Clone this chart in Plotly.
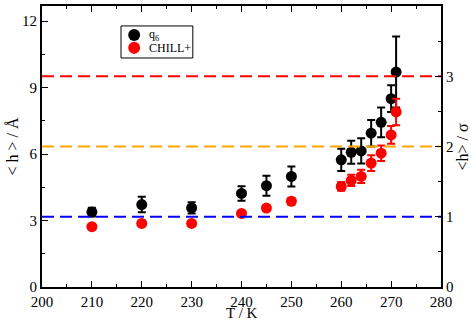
import plotly.graph_objects as go

# q6 data
T_q6 = [210, 220, 230, 240, 245, 250, 260, 262, 264, 266, 268, 270, 271]
h_q6 = [3.38, 3.72, 3.57, 4.22, 4.57, 4.99, 5.74, 6.08, 6.14, 6.94, 7.43, 8.50, 9.70]
err_q6 = [0.20, 0.35, 0.25, 0.33, 0.45, 0.45, 0.50, 0.52, 0.57, 0.60, 0.67, 0.60, 1.60]

# CHILL+ data
T_chill = [210, 220, 230, 240, 245, 250, 260, 262, 264, 266, 268, 270, 271]
h_chill = [2.72, 2.87, 2.87, 3.32, 3.56, 3.87, 4.54, 4.81, 4.99, 5.59, 6.04, 6.86, 7.90]
err_chill = [0.05, 0.05, 0.05, 0.05, 0.10, 0.15, 0.20, 0.25, 0.30, 0.35, 0.35, 0.40, 0.60]

# reference lines in units of sigma
sigma = 3.17
levels = [1, 2, 3]
level_colors = ["blue", "orange", "red"]

series_names = ["q<sub>6</sub>", "CHILL+"]
series_colors = ["black", "red"]

font = "Liberation Serif"

fig = go.Figure()

for lv, col in zip(levels, level_colors):
    fig.add_trace(go.Scatter(x=[200, 280], y=[lv, lv], mode="lines", yaxis="y2",
                             line=dict(color=col, width=2, dash="12px,6px"),
                             showlegend=False, hoverinfo="skip"))

fig.add_trace(go.Scatter(x=T_q6, y=h_q6, mode="markers", name=series_names[0],
                         marker=dict(color="black", size=11),
                         error_y=dict(type="data", array=err_q6, color="black",
                                      thickness=2, width=4)))
fig.add_trace(go.Scatter(x=T_chill, y=h_chill, mode="markers", name=series_names[1],
                         marker=dict(color="red", size=11),
                         error_y=dict(type="data", array=err_chill, color="red",
                                      thickness=2, width=4)))

axis_common = dict(showline=True, linecolor="black", linewidth=2, ticks="inside",
                   ticklen=6, tickwidth=1, tickcolor="black", showgrid=False,
                   zeroline=False, ticklabelstandoff=0, automargin=False,
                   tickfont=dict(family=font, size=15, color="black"))

# hand-made compact legend box (xmgrace style)
shapes = [dict(type="rect", xref="paper", yref="paper", x0=0.198, x1=0.378,
               y0=0.815, y1=0.929, line=dict(color="black", width=1),
               fillcolor="white", layer="above")]
annotations = []
for i, (name, col) in enumerate(zip(series_names, series_colors)):
    yc = 0.897 - i * 0.046
    shapes.append(dict(type="circle", xref="paper", yref="paper",
                       x0=0.231 - 0.015, x1=0.231 + 0.015,
                       y0=yc - 0.0214, y1=yc + 0.0214,
                       fillcolor=col, line=dict(width=0), layer="above"))
    annotations.append(dict(text=name, xref="paper", yref="paper", x=0.264, y=yc,
                            xanchor="left", yanchor="middle", showarrow=False,
                            font=dict(size=12)))

annotations += [
    dict(text="T / K", xref="paper", yref="paper", x=0.5, y=-0.094,
         yanchor="middle", showarrow=False, font=dict(size=15)),
    dict(text="< h > / Å", xref="paper", yref="paper", x=-0.075, y=0.5,
         textangle=-90, xanchor="center", yanchor="middle", showarrow=False,
         font=dict(size=16)),
    dict(text="<h> / σ", xref="paper", yref="paper", x=1.055, y=0.5,
         textangle=-90, xanchor="center", yanchor="middle", showarrow=False,
         font=dict(size=16)),
]

fig.update_layout(
    width=471, height=320,
    margin=dict(l=42, r=30, t=6, b=33, autoexpand=False),
    plot_bgcolor="white", paper_bgcolor="white",
    font=dict(family=font, size=16, color="black"),
    showlegend=False,
    xaxis=dict(range=[200, 280], dtick=10, mirror="ticks",
               minor=dict(dtick=5, ticks="inside", ticklen=3, tickcolor="black"),
               **axis_common),
    yaxis=dict(range=[0, 4 * sigma], tickvals=[0, 3, 6, 9, 12],
               minor=dict(tickvals=[1.5, 4.5, 7.5, 10.5], ticks="inside", ticklen=3,
                          tickcolor="black"),
               **axis_common),
    yaxis2=dict(range=[0, 4], overlaying="y", side="right", dtick=1,
                minor=dict(dtick=0.5, ticks="inside", ticklen=3, tickcolor="black"),
                **axis_common),
    shapes=shapes,
    annotations=annotations,
)

fig.write_html("out.html", config={"displayModeBar": False},
               post_script="document.body.style.margin='0';")
